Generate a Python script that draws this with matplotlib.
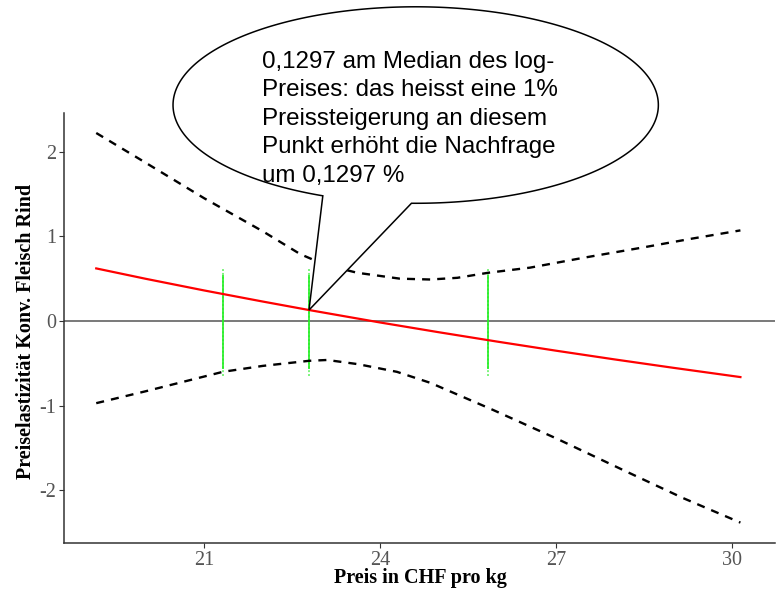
import numpy as np
import matplotlib
matplotlib.use("Agg")
import matplotlib.pyplot as plt
from matplotlib.path import Path
from matplotlib.patches import PathPatch

# Price grid (CHF/kg) and estimated price elasticity along it
price = [19.16, 20.0, 21.0, 22.0, 22.79, 24.0, 25.0, 26.0, 27.0, 28.0, 29.0, 30.15]
elasticity = [0.621, 0.499, 0.361, 0.230, 0.1297, -0.017, -0.132, -0.243, -0.350, -0.453, -0.552, -0.662]

# Upper confidence band
upper_price = [19.16, 20.0, 21.0, 22.0, 22.64, 22.84, 23.2, 23.61, 24.34, 24.86, 25.32, 25.85, 26.56, 27.5, 28.5, 29.3, 30.15]
upper_ci = [2.22, 1.87, 1.45, 1.06, 0.79, 0.73, 0.64, 0.57, 0.50, 0.49, 0.51, 0.57, 0.63, 0.75, 0.87, 0.97, 1.07]

# Lower confidence band
lower_price = [19.16, 20.0, 21.32, 22.0, 22.79, 23.1, 23.63, 24.29, 24.86, 25.93, 27.02, 28.15, 29.17, 30.15]
lower_ci = [-0.97, -0.83, -0.60, -0.53, -0.47, -0.46, -0.51, -0.60, -0.73, -1.05, -1.39, -1.76, -2.09, -2.38]

# Quartiles of the price (25 %, median, 75 %)
quartiles = [21.32, 22.79, 25.85]
quart_low, quart_high = -0.65, 0.625

median_price = 22.79
median_elasticity = 0.1297

x_ticks = [21, 24, 27, 30]
y_ticks = [-2, -1, 0, 1, 2]

serif = ["Liberation Serif", "DejaVu Serif"]
sans = ["Liberation Sans", "DejaVu Sans"]

fig = plt.figure(figsize=(7.8, 5.89), dpi=100)
W, H = 780, 589
ax = fig.add_axes([64 / W, 1 - 543 / H, (775 - 64) / W, (543 - 113) / H])

ax.set_xlim(18.61, 30.74)
ax.set_ylim(-2.621, 2.456)

ax.axhline(0, color="#555555", lw=1.1, zorder=1)

for q in quartiles:
    ax.vlines(q, quart_low, quart_high, color="#44ee44", lw=1.4, linestyles=(0, (1, 1)), alpha=0.7, zorder=2)
    ax.vlines(q, quart_low + 0.08, quart_high - 0.08, color="#22ee22", lw=1.2, zorder=2)

ax.plot(upper_price, upper_ci, color="black", lw=1.7, linestyle=(0, (3.4, 3.0)), zorder=3)
ax.plot(lower_price, lower_ci, color="black", lw=1.7, linestyle=(0, (3.4, 3.0)), zorder=3)
ax.plot(price, elasticity, color="#ff0000", lw=1.6, zorder=4)

for side in ["top", "right"]:
    ax.spines[side].set_visible(False)
for side in ["left", "bottom"]:
    ax.spines[side].set_color("#333333")
    ax.spines[side].set_linewidth(1.1)

ax.set_xticks(x_ticks)
ax.set_yticks(y_ticks)
ax.set_xticklabels([str(t) for t in x_ticks], family=serif, fontsize=14.5, color="#555555")
ax.set_yticklabels([str(t) for t in y_ticks], family=serif, fontsize=14.5, color="#555555")
ax.tick_params(axis="both", length=3.5, width=0.8, color="#333333", pad=2)

fig.text(420 / W, 1 - 578 / H, "Preis in CHF pro kg", family=serif, fontsize=14.5,
         fontweight="bold", ha="center", va="center")
fig.text(26 / W, 1 - 331 / H, "Preiselastizität Konv. Fleisch Rind", family=serif, fontsize=14.5,
         fontweight="bold", ha="center", va="center", rotation=90)

# Speech bubble pointing at the median price
cx, cy = 24.61, 2.55
a, b = 4.14, 1.16
t_start = np.deg2rad(-91.0)
t_end = np.deg2rad(247.5)
t = np.linspace(t_start, t_end, 300)
xs = cx + a * np.cos(t)
ys = cy + b * np.sin(t)
verts = list(zip(xs, ys)) + [(median_price, median_elasticity), (xs[0], ys[0])]
codes = [Path.MOVETO] + [Path.LINETO] * (len(verts) - 2) + [Path.CLOSEPOLY]
bubble = PathPatch(Path(verts, codes), facecolor="white", edgecolor="black", lw=1.1,
                   clip_on=False, zorder=10)
ax.add_patch(bubble)

fig.text(262 / W, 1 - 51 / H,
         "0,1297 am Median des log-\nPreises: das heisst eine 1%\nPreissteigerung an diesem\n"
         "Punkt erhöht die Nachfrage\num 0,1297 %",
         family=sans, fontsize=17.4, ha="left", va="top", linespacing=1.38, zorder=11,
         transform=fig.transFigure)

fig.savefig("out.png", dpi=100)
